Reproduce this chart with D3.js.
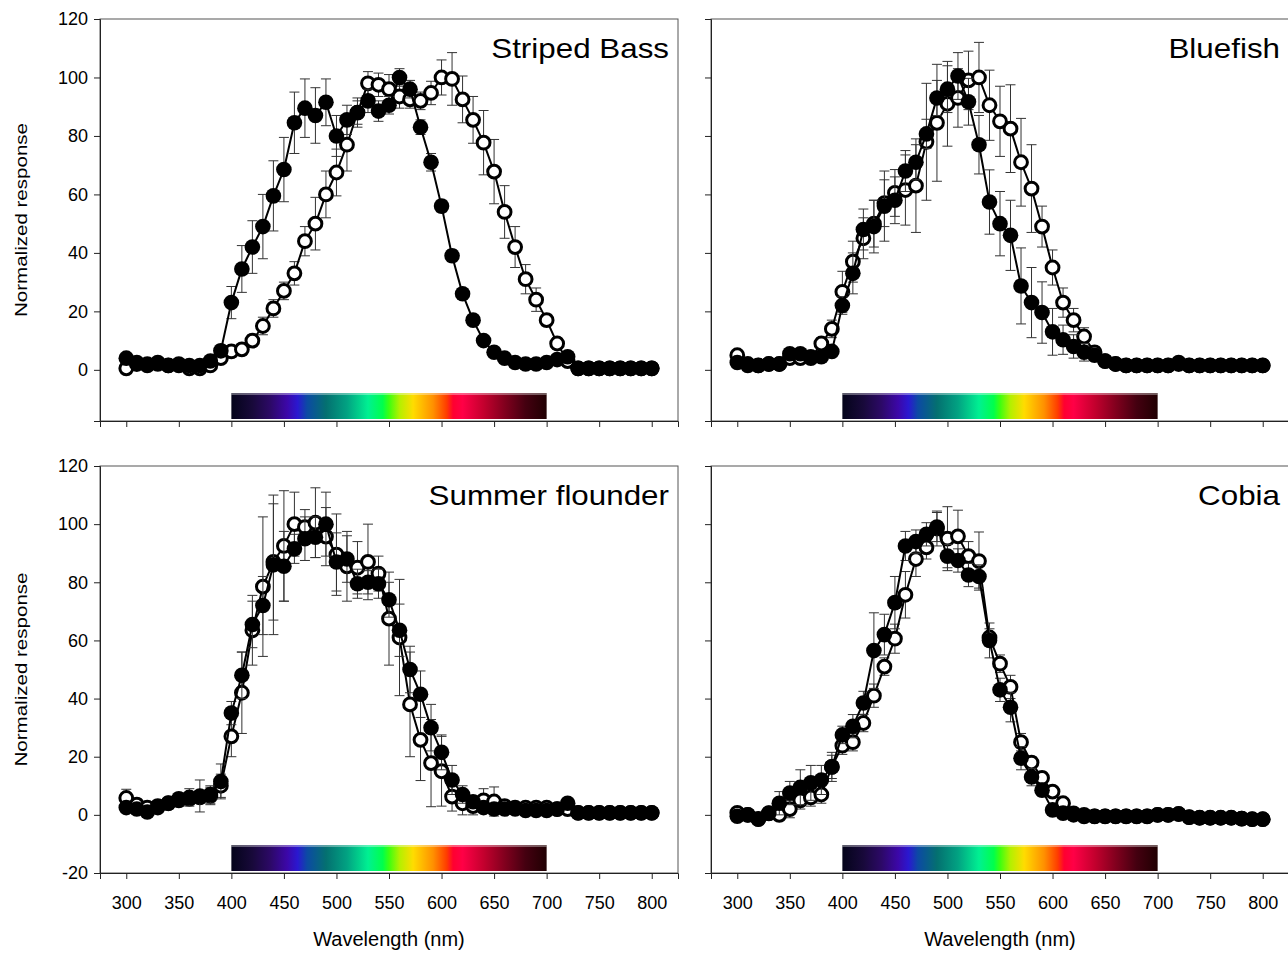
<!DOCTYPE html>
<html>
<head>
<meta charset="utf-8">
<script src="https://cdn.jsdelivr.net/npm/d3@7"></script>
<style>
  body { margin: 0; background: #fff; }
  svg { font-family: Arial, "Liberation Sans", sans-serif; }
</style>
</head>
<body>
<svg id="chart" width="1288" height="953"></svg>
<script>
// wavelengths (nm) shared by every series
const wavelengths = [300, 310, 320, 330, 340, 350, 360, 370, 380, 390,
  400, 410, 420, 430, 440, 450, 460, 470, 480, 490,
  500, 510, 520, 530, 540, 550, 560, 570, 580, 590,
  600, 610, 620, 630, 640, 650, 660, 670, 680, 690,
  700, 710, 720, 730, 740, 750, 760, 770, 780, 790, 800]

const xTicks = [300, 350, 400, 450, 500, 550, 600, 650, 700, 750, 800]
const yTicksTop = [0, 20, 40, 60, 80, 100, 120]
const yTicksBottom = [-20, 0, 20, 40, 60, 80, 100, 120]

// Striped Bass
const stripedBassFilled = [4, 2.5, 2, 2, 1.5, 2, 1.5, 1.5, 3, 6.5,
  23, 34.5, 42, 49, 59.5, 68.5, 84.5, 89.5, 87, 91.5,
  80, 85.5, 88, 92, 88.5, 90.5, 100, 96, 83, 71,
  56, 39, 26, 17, 10, 6, 4, 2.5, 2, 2,
  2.5, 3.5, 4.5, 0.5, 0.5, 0.5, 0.5, 0.5, 0.5, 0.5, 0.5]
const stripedBassFilledErr = [1, 1, 1, 1, 1, 1, 1, 1, 1, 2,
  5.5, 8, 9, 11, 12, 11, 10.5, 10, 9.5, 8,
  7, 5, 4, 4, 3.5, 3, 3, 3, 2.5, 3,
  2, 2, 1.5, 1, 1, 1, 0, 0, 0, 0,
  0, 0, 0, 0, 0, 0, 0, 0, 0, 0, 0]
const stripedBassOpen = [0.5, 2, 1.5, 2.5, 1.5, 1.5, 0.5, 0.5, 1.5, 4,
  6.3, 7, 10, 15, 21, 27, 33, 44, 50, 60,
  67.5, 77, 88, 98, 97.5, 96, 93.5, 92.5, 92, 94.7,
  100, 99.5, 92.5, 85.5, 77.7, 67.8, 54, 42, 31, 24,
  17, 9, 3, 0.5, 0.5, 0.5, 0.5, 0.5, 0.5, 0.5, 0.5]
const stripedBassOpenErr = [1, 1, 1, 1, 1, 1, 1, 1, 1, 1,
  2, 2, 2, 3, 3, 3, 4, 5, 9, 8,
  8, 9, 5, 4, 4, 5, 4, 3, 3, 4,
  6, 9, 8, 8, 11, 11, 9, 7, 5, 4,
  2, 2, 1, 0, 0, 0, 0, 0, 0, 0, 0]

// Bluefish
const bluefishFilled = [2.5, 1.5, 1.5, 2, 2, 5.5, 5.5, 4.5, 4.5, 6.3,
  22, 33, 48, 49, 56, 58, 68, 71, 80.7, 93,
  96, 100.5, 91.7, 77, 57.4, 50, 46, 28.7, 23, 19.6,
  13, 10.3, 8, 6, 5, 3, 2, 1.5, 1.5, 1.5,
  1.5, 1.5, 2.5, 1.5, 1.5, 1.5, 1.5, 1.5, 1.5, 1.5, 1.5]
const bluefishFilledErr = [1, 1, 1, 1, 1, 1, 1, 1, 1, 1,
  3, 7, 7, 9, 12, 8, 7, 6, 5, 6,
  8, 8, 8, 10, 11, 11, 12, 13, 12, 10.5,
  8, 5, 4, 3, 2, 1, 0, 0, 0, 0,
  0, 0, 0, 0, 0, 0, 0, 0, 0, 0, 0]
const bluefishOpen = [5, 2, 1.5, 2, 2, 4, 4, 4, 9, 14,
  26.7, 37, 45, 50, 57, 60.5, 61.5, 63, 78, 84.5,
  91, 93, 99, 100, 90.5, 85, 82.5, 71, 62, 49,
  35, 23, 17, 11.4, 6, 3, 2, 1.5, 1.5, 1.5,
  1.5, 1.5, 2, 1.5, 1.5, 1.5, 1.5, 1.5, 1.5, 1.5, 1.5]
const bluefishOpenErr = [1, 1, 1, 1, 1, 1, 1, 1, 2, 3,
  7, 7, 7, 8, 8, 8, 12, 16, 20, 20,
  14.5, 10, 10, 12, 12, 12, 15, 15, 15, 7,
  6, 5, 4, 3, 2, 1, 0, 0, 0, 0,
  0, 0, 0, 0, 0, 0, 0, 0, 0, 0, 0]

// Summer flounder
const summerFlounderFilled = [2.5, 2, 1, 2.5, 4, 5.5, 6, 6.5, 7, 11.5,
  35, 48, 65.5, 72, 86, 85.5, 91.5, 95, 95.5, 100,
  87, 88, 79.5, 80, 79.5, 74, 63.5, 50, 41.5, 30,
  21.5, 12, 7, 4.5, 2.5, 2, 2, 2, 1.5, 1.5,
  1.5, 2, 4, 0.7, 0.7, 0.7, 0.7, 0.7, 0.7, 0.7, 0.7]
const summerFlounderFilledErr = [1, 1, 1, 1, 2, 2, 3, 5.5, 3, 6,
  4, 8, 8, 10, 24, 12, 5, 7.5, 7, 11,
  10, 8, 5, 4, 5, 6, 9, 8, 8, 8,
  6, 5, 3, 2, 1, 1, 1, 1, 1, 1,
  1, 1, 1, 0, 0, 0, 0, 0, 0, 0, 0]
const summerFlounderOpen = [5.8, 3.5, 2.5, 3, 4, 5, 5.5, 6, 6.5, 10,
  27, 42, 63.5, 78.5, 87, 92.5, 100, 99, 100.5, 95.7,
  89.5, 85.5, 85, 87, 83, 67.5, 61, 38, 25.8, 17.8,
  15, 6.3, 4, 3, 5, 4.6, 3, 2.5, 2.5, 2.5,
  2.5, 2, 2, 0.7, 0.7, 0.7, 0.7, 0.7, 0.7, 0.7, 0.7]
const summerFlounderOpenErr = [3, 2, 2, 2, 2, 2, 2, 2, 3, 4,
  7, 14, 12, 24, 20, 19, 11, 6, 12, 10,
  14, 12, 9, 13, 6, 16, 20, 18, 14, 15,
  12, 5, 4, 3, 4, 5, 2, 1, 1, 1,
  1, 1, 1, 0, 0, 0, 0, 0, 0, 0, 0]

// Cobia
const cobiaFilled = [-0.5, 0, -1.5, 0.5, 4, 7.5, 9.5, 11, 12, 16.5,
  27.5, 30.5, 38.5, 56.5, 62, 73, 92.5, 94, 96.5, 99,
  89, 87.5, 82.5, 82, 60, 43, 37, 19.5, 13, 8.5,
  1.7, 0.6, 0, 0, -0.5, -0.5, -0.5, -0.5, -0.5, -0.5,
  0, 0, 0.3, -0.8, -1, -1, -1, -1, -1.3, -1.5, -1.5]
const cobiaFilledErr = [1, 1, 1, 1, 4, 4, 6, 6, 5, 5,
  3, 4, 4, 13, 7, 9, 5, 4, 4, 5,
  4, 4, 4, 4, 6, 4, 5, 4, 3, 2,
  1, 1, 0, 0, 0, 0, 0, 0, 0, 0,
  0, 0, 0, 0, 0, 0, 0, 0, 0, 0, 0]
const cobiaOpen = [0.7, 0, -1.4, 0.6, 0, 2, 5, 6, 7, 16.5,
  23.8, 25, 31.6, 41, 51, 60.6, 75.7, 88, 92, 98.5,
  95, 95.8, 89, 87.3, 61, 52, 44, 25, 18, 12.7,
  8, 4, 0.5, -0.5, -0.5, -0.5, -0.5, -0.5, -0.5, -0.5,
  0, 0, 0.3, -0.8, -1, -1, -1, -1, -1.3, -1.5, -1.5]
const cobiaOpenErr = [1, 1, 1, 1, 2, 3, 3, 3, 3, 4,
  3, 3, 3, 4, 3, 5, 8, 6, 4, 6,
  11, 9, 5, 10, 3, 3, 4, 3, 2, 2,
  1, 1, 0, 0, 0, 0, 0, 0, 0, 0,
  0, 0, 0, 0, 0, 0, 0, 0, 0, 0, 0]

// visible spectrum strip, 400-700 nm
const spectrumNm = [400, 420, 437, 453, 463, 472, 490, 510, 530, 544, 550, 560, 573, 592, 605, 611, 620, 640, 660, 680, 700]
const spectrumColors = ['#04041a', '#18093a', '#2c0966', '#3c07a8', '#2a18d0', '#0c4aa4', '#047070', '#02a282', '#00f092', '#00ff4c', '#3cff10', '#b4f000', '#ffdc00', '#ff9000', '#ff3c00', '#ff0030', '#ff0046', '#c4002e', '#82001e', '#440010', '#200002']

const panels = [
  { title: 'Striped Bass', col: 0, row: 0, filled: stripedBassFilled, filledErr: stripedBassFilledErr, open: stripedBassOpen, openErr: stripedBassOpenErr },
  { title: 'Bluefish', col: 1, row: 0, filled: bluefishFilled, filledErr: bluefishFilledErr, open: bluefishOpen, openErr: bluefishOpenErr },
  { title: 'Summer flounder', col: 0, row: 1, filled: summerFlounderFilled, filledErr: summerFlounderFilledErr, open: summerFlounderOpen, openErr: summerFlounderOpenErr },
  { title: 'Cobia', col: 1, row: 1, filled: cobiaFilled, filledErr: cobiaFilledErr, open: cobiaOpen, openErr: cobiaOpenErr }
]

// layout
const cols = [{ x0: 100, x1: 678 }, { x0: 711, x1: 1289 }]
const rows = [
  { y0: 19, y1: 421, domain: [-17.5, 120], ticks: yTicksTop },
  { y0: 466, y1: 873, domain: [-20, 120], ticks: yTicksBottom }
]
const xDomain = [275, 825]

const svg = d3.select('#chart')
svg.append('rect').attr('width', 1288).attr('height', 953).attr('fill', '#fff')

const grad = svg.append('defs').append('linearGradient')
  .attr('id', 'spectrum')
  .attr('x1', '0%').attr('x2', '100%').attr('y1', '0%').attr('y2', '0%')
spectrumNm.forEach((nm, i) => {
  grad.append('stop')
    .attr('offset', ((nm - 400) / 300 * 100) + '%')
    .attr('stop-color', spectrumColors[i])
})

function drawSeries(g, x, y, vals, errs, filled) {
  const pts = wavelengths.map((w, i) => ({ w, v: vals[i], e: errs[i] }))

  // error bars
  const eb = g.append('g').attr('stroke', '#333').attr('stroke-width', 1)
  pts.filter(d => d.e > 0).forEach(d => {
    const px = x(d.w), yt = y(d.v + d.e), yb = y(d.v - d.e)
    eb.append('line').attr('x1', px).attr('x2', px).attr('y1', yt).attr('y2', yb)
    eb.append('line').attr('x1', px - 5).attr('x2', px + 5).attr('y1', yt).attr('y2', yt)
    eb.append('line').attr('x1', px - 5).attr('x2', px + 5).attr('y1', yb).attr('y2', yb)
  })

  g.append('path')
    .datum(pts)
    .attr('fill', 'none')
    .attr('stroke', '#000')
    .attr('stroke-width', 2)
    .attr('d', d3.line().x(d => x(d.w)).y(d => y(d.v)))

  g.append('g').selectAll('circle')
    .data(pts)
    .join('circle')
      .attr('cx', d => x(d.w))
      .attr('cy', d => y(d.v))
      .attr('r', filled ? 7.8 : 6.4)
      .attr('fill', filled ? '#000' : '#fff')
      .attr('stroke', '#000')
      .attr('stroke-width', filled ? 0 : 3)
}

panels.forEach(p => {
  const c = cols[p.col], r = rows[p.row]
  const x = d3.scaleLinear().domain(xDomain).range([c.x0, c.x1])
  const y = d3.scaleLinear().domain(r.domain).range([r.y1, r.y0])
  const g = svg.append('g')

  // spectrum strip
  g.append('rect')
    .attr('x', x(400)).attr('width', x(700) - x(400))
    .attr('y', r.y1 - 28).attr('height', 26)
    .attr('fill', 'url(#spectrum)')
  g.append('rect')
    .attr('x', x(400)).attr('width', x(700) - x(400))
    .attr('y', r.y1 - 28).attr('height', 2)
    .attr('fill', '#fff').attr('opacity', 0.35)

  // frame
  g.append('rect')
    .attr('x', c.x0).attr('y', r.y0)
    .attr('width', c.x1 - c.x0).attr('height', r.y1 - r.y0)
    .attr('fill', 'none').attr('stroke', '#555').attr('stroke-width', 1)

  drawSeries(g, x, y, p.open, p.openErr, false)
  drawSeries(g, x, y, p.filled, p.filledErr, true)

  // axes
  const yAxis = d3.axisLeft(y).tickValues(r.ticks).tickSize(6).tickPadding(6)
    .tickFormat(p.col === 0 ? (d => String(d)) : '')
  const ya = g.append('g').attr('transform', `translate(${c.x0},0)`).call(yAxis)

  const xAxis = d3.axisBottom(x).tickValues(xTicks).tickSize(6).tickPadding(17)
    .tickFormat(p.row === 1 ? (d => String(d)) : '')
  const xa = g.append('g').attr('transform', `translate(0,${r.y1})`).call(xAxis)

  ;[ya, xa].forEach(a => {
    a.select('.domain').attr('stroke', '#222')
    a.selectAll('.tick line').attr('stroke', '#222')
    a.selectAll('.tick text').attr('fill', '#000')
      .style('font-family', 'Arial, "Liberation Sans", sans-serif')
      .style('font-size', '18px')
  })

  // panel title, slightly wide as in the source figure
  g.append('text')
    .attr('transform', `translate(${c.x1 - 9},${r.y0 + 39}) scale(1.12,1)`)
    .attr('text-anchor', 'end')
    .style('font-size', '28px')
    .text(p.title)

  if (p.col === 0) {
    g.append('text')
      .attr('transform', `translate(27,${(r.y0 + r.y1) / 2}) rotate(-90)`)
      .attr('text-anchor', 'middle')
      .attr('textLength', 194)
      .attr('lengthAdjust', 'spacingAndGlyphs')
      .style('font-size', '17px')
      .text('Normalized response')
  }
  if (p.row === 1) {
    g.append('text')
      .attr('x', x(550)).attr('y', 946)
      .attr('text-anchor', 'middle')
      .style('font-size', '20px')
      .text('Wavelength (nm)')
  }
})
</script>
</body>
</html>
